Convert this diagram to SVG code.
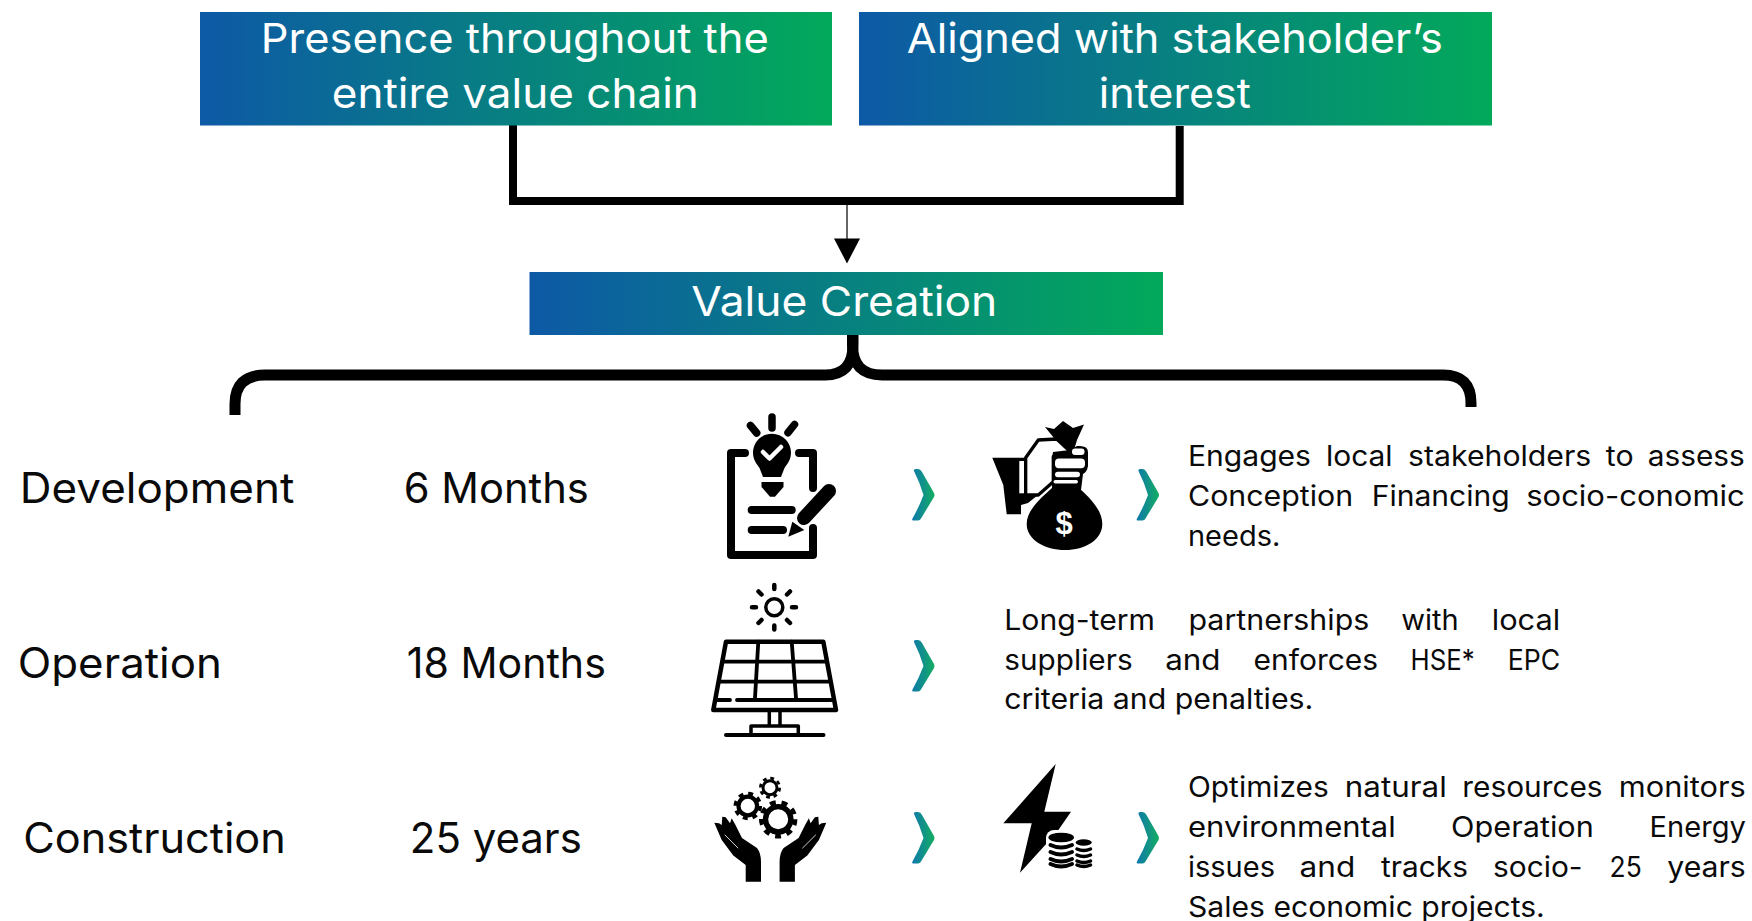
<svg xmlns="http://www.w3.org/2000/svg" width="1752" height="921" viewBox="0 0 1752 921">
<style>
text{font-family:"Inter","Noto Sans",sans-serif;font-weight:400;fill:#0a0a0a;transform:translate(-1.200px,1.200px)}
.hd{font-size:41px;fill:#fff}
.rw{font-size:42px}
.bd{font-size:28px}
.dl{font-family:"Liberation Sans",sans-serif;font-weight:700;font-size:31px;fill:#fff;transform:none}
.ln{fill:none;stroke:#000;stroke-linejoin:miter}
.ic{fill:none;stroke:#000;stroke-linecap:round;stroke-linejoin:round}
.bk{fill:#000}
.wh{fill:#fff}
.ch{fill:url(#chev)}
</style>
<defs>
<linearGradient id="box" x1="0" y1="0" x2="1" y2="0"><stop offset="0" stop-color="#0d59a6"/><stop offset="1" stop-color="#02a95a"/></linearGradient>
<linearGradient id="chev" x1="0" y1="0" x2="1" y2="0"><stop offset="0" stop-color="#0f78ad"/><stop offset="1" stop-color="#14ad62"/></linearGradient>
<path id="chevron" class="ch" d="M914,471 Q913.500,469 916,469 H918 Q920.500,469 922,472 L934,493 Q935,495 934,497 L921,518.500 Q920,520.500 918,520.500 H913 Q911.500,520.500 912.500,518.500 Q919,507 923.500,495 Q920,483 914,471 Z"/>
<path id="hand" d="M745.700,881.700 V865 L733.300,855.500 L721.700,840 L714.300,822.700 L719,823.300 L721.700,825 L722.300,816.700 L725.700,817.300 L730,823.300 L731.700,818.300 L735.500,825 L742,838 L757,848 Q761,853 761,862 V881.700 Z"/>
</defs>

<g id="connectors">
<path class="ln" stroke-width="8" d="M513,123 V201 H1179.700 V126"/>
<path class="ln" stroke-width="1.500" style="stroke:#333" d="M847,205 V240"/>
<polygon class="bk" points="834,238.500 860,238.500 847,263.500"/>
<path class="ln" stroke-width="11" d="M235,415 V404 Q235,375 265,375 H825 Q853,375 853,345 V335"/>
<path class="ln" stroke-width="11" d="M852.500,335 V345 Q852.500,375 882,375 H1443 Q1471,375 1471,403 V407"/>
</g>

<g id="node-presence">
<rect x="200" y="12" width="632" height="113.500" fill="url(#box)"/>
<text class="hd"><tspan x="262" y="52" textLength="508" lengthAdjust="spacingAndGlyphs">Presence throughout the</tspan></text>
<text class="hd"><tspan x="333" y="107" textLength="367" lengthAdjust="spacingAndGlyphs">entire value chain</tspan></text>
</g>
<g id="node-aligned">
<rect x="859" y="12" width="633" height="113.500" fill="url(#box)"/>
<text class="hd"><tspan x="908" y="52" textLength="536" lengthAdjust="spacingAndGlyphs">Aligned with stakeholder’s</tspan></text>
<text class="hd"><tspan x="1100" y="107" textLength="152" lengthAdjust="spacingAndGlyphs">interest</tspan></text>
</g>
<g id="node-value">
<rect x="529.500" y="272" width="633.500" height="63" fill="url(#box)"/>
<text class="hd"><tspan x="692.500" y="315" textLength="306" lengthAdjust="spacingAndGlyphs">Value Creation</tspan></text>
</g>

<g id="row-labels">
<text class="rw"><tspan x="21" y="502" textLength="274.500" lengthAdjust="spacingAndGlyphs">Development</tspan></text>
<text class="rw"><tspan x="405" y="502" textLength="185" lengthAdjust="spacingAndGlyphs">6 Months</tspan></text>
<text class="rw"><tspan x="19" y="677" textLength="204" lengthAdjust="spacingAndGlyphs">Operation</tspan></text>
<text class="rw"><tspan x="408" y="677" textLength="199" lengthAdjust="spacingAndGlyphs">18 Months</tspan></text>
<text class="rw"><tspan x="24.500" y="852" textLength="262.500" lengthAdjust="spacingAndGlyphs">Construction</tspan></text>
<text class="rw"><tspan x="411" y="852" textLength="172" lengthAdjust="spacingAndGlyphs">25 years</tspan></text>
</g>

<g id="icon-clipboard">
<path class="ic" stroke-width="8" d="M745,453 H731 V555 H813 V528 M799,453 H813 V488"/>
<path class="bk" d="M772,433.700 C782.500,433.700 791,442 791,452.700 C791,460 787,464 784.500,468 L781,477 H763 L759.500,468 C757,464 753,460 753,452.700 C753,442 761.500,433.700 772,433.700 Z"/>
<path class="ic" stroke-width="4.500" style="stroke:#fff" d="M763,452 L769.500,458.500 L781,447"/>
<path class="bk" d="M761.500,482 H783.500 V487 L775,496.700 H770 L761.500,487 Z"/>
<path class="ic" stroke-width="7.500" d="M772,417 V428 M750.500,425.500 L756.700,433 M794.500,424.500 L788,432.700"/>
<path class="ic" stroke-width="8" d="M751.700,510 H791.700 M751.700,530 H783"/>
<path class="ic" stroke-width="14" d="M829,491 L804,518"/>
<polygon class="bk" points="792.300,521.700 788.300,536.700 804.300,530"/>
</g>

<g id="icon-money">
<polygon class="bk" points="1045,427 1054,429 1063,421 1073,428 1084,424.500 1077,440 1074,450 1059,450 1054,438"/>
<polygon class="bk" points="992.300,457.700 1025.700,457.700 1025.700,495 1038,495 1028,503 1021,505 1021,514.300 1006.700,514.300 1003.300,485"/>
<rect x="1019.300" y="461" width="4.700" height="32.300" class="wh"/>
<path class="wh" stroke="#000" stroke-width="3.300" stroke-linejoin="round" d="M1025.700,457.700 L1038.300,440 L1056.700,439 L1071,452.300 L1053.300,456.700 V481.700 L1038.300,495 H1025.700 Z"/>
<path class="bk" d="M1053,487 H1078 C1090,498 1102.300,510 1102.300,524 C1102.300,540 1085,550 1065,550 C1045,550 1026.700,540 1026.700,524 C1026.700,510 1041,498 1053,487 Z"/>
<path class="bk" d="M1053,452 L1070,450 L1077,446 Q1088,445 1088,452 V466 Q1087,472 1083,474 L1081,490 H1052 V458 Z"/>
<rect x="1072" y="448.500" width="12.500" height="6.500" rx="3" class="wh"/>
<rect x="1055" y="458.500" width="30" height="9.800" rx="4" class="wh"/>
<rect x="1055" y="471.700" width="25" height="5.600" rx="2.800" class="wh"/>
<rect x="1053.500" y="480" width="24.500" height="3.600" rx="1.800" class="wh"/>
<text class="dl" x="1064" y="534" text-anchor="middle">$</text>
</g>

<g id="icon-solar">
<circle class="ic" cx="774.300" cy="607.300" r="8.500" stroke-width="3.500"/>
<path class="ic" stroke-width="4.500" d="M774.300,585 V589 M774.300,625.500 V629.500 M752,607.300 H756 M792,607.300 H796 M758.500,591.500 L761.500,594.500 M790,591.500 L787,594.500 M758.500,623 L761.500,620 M790,623 L787,620"/>
<path class="ic" stroke-width="4.500" d="M726,641.700 H823.300 L836,710 H713.300 Z"/>
<path class="ic" stroke-width="3.800" d="M722.500,661.700 H827 M719,681.700 H830.500 M758.300,641.700 L755,698 M791.700,641.700 L796,698 M716,700 H730 M737,700 H833"/>
<path class="ic" stroke-width="3.500" d="M769.300,711 V725 M780,711 V725 M751,734 V726 H798.300 V734"/>
<path class="ic" stroke-width="4" d="M726,735 H823.500"/>
</g>

<g id="icon-hands">
<use href="#hand" class="bk"/>
<use href="#hand" class="bk" transform="translate(1540.600,0) scale(-1,1)"/>
<path class="ic" stroke-width="0.800" style="stroke:#fff" d="M725,835 L738,848 M815.600,835 L802.600,848"/>
<circle class="ic" cx="778.200" cy="819.300" r="12.700" stroke-width="5.400"/>
<circle cx="778.200" cy="819.300" r="17" fill="none" stroke="#000" stroke-width="4.400" stroke-dasharray="5.930"/>
<circle class="ic" cx="747.800" cy="806" r="9.300" stroke-width="4.200"/>
<circle cx="747.800" cy="806" r="12.500" fill="none" stroke="#000" stroke-width="3.500" stroke-dasharray="4.910"/>
<circle class="ic" cx="770" cy="787.700" r="7" stroke-width="3"/>
<circle cx="770" cy="787.700" r="9.600" fill="none" stroke="#000" stroke-width="2.800" stroke-dasharray="3.770"/>
</g>

<g id="icon-bolt">
<polygon class="bk" points="1055.700,764 1044.300,811.700 1071,811.700 1057,832 1020,872.700 1031.700,823.300 1003.300,823.300"/>
<rect x="1046" y="830" width="47" height="40" rx="8" class="wh"/>
<ellipse class="bk" cx="1061.200" cy="837.500" rx="12.800" ry="4.800"/>
<path class="ic" stroke-width="4" d="M1050.500,845 Q1061,850 1072,845 M1050.500,852 Q1061,857 1072,852 M1050.500,859 Q1061,864 1072,859 M1050.500,864 Q1061,869 1072,864"/>
<ellipse class="bk" cx="1083.700" cy="842.500" rx="8" ry="3.200"/>
<path class="ic" stroke-width="3.500" d="M1077,849 Q1083.700,852 1090.500,849 M1077,855 Q1083.700,858 1090.500,855 M1077,861 Q1083.700,864 1090.500,861 M1077,865 Q1083.700,868 1090.500,865"/>
</g>

<g id="chevrons">
<use href="#chevron"/>
<use href="#chevron" x="224.500"/>
<use href="#chevron" y="171"/>
<use href="#chevron" y="343"/>
<use href="#chevron" x="224.500" y="343"/>
</g>

<g id="text-development">
<text class="bd"><tspan x="1189.200" y="465" textLength="123" lengthAdjust="spacingAndGlyphs">Engages</tspan> <tspan x="1327.200" y="465" textLength="66.600" lengthAdjust="spacingAndGlyphs">local</tspan> <tspan x="1409.300" y="465" textLength="183.200" lengthAdjust="spacingAndGlyphs">stakeholders</tspan> <tspan x="1607" y="465" textLength="27.800" lengthAdjust="spacingAndGlyphs">to</tspan> <tspan x="1648.900" y="465" textLength="97.100" lengthAdjust="spacingAndGlyphs">assess</tspan></text>
<text class="bd"><tspan x="1189.200" y="505" textLength="165.200" lengthAdjust="spacingAndGlyphs">Conception</tspan> <tspan x="1372.900" y="505" textLength="138" lengthAdjust="spacingAndGlyphs">Financing</tspan> <tspan x="1527.400" y="505" textLength="218.600" lengthAdjust="spacingAndGlyphs">socio-conomic</tspan></text>
<text class="bd"><tspan x="1189.200" y="545" textLength="92.300" lengthAdjust="spacingAndGlyphs">needs.</tspan></text>
</g>
<g id="text-operation">
<text class="bd"><tspan x="1005.500" y="629" textLength="150.700" lengthAdjust="spacingAndGlyphs">Long-term</tspan> <tspan x="1189.700" y="629" textLength="180.800" lengthAdjust="spacingAndGlyphs">partnerships</tspan> <tspan x="1402.500" y="629" textLength="57.400" lengthAdjust="spacingAndGlyphs">with</tspan> <tspan x="1492.900" y="629" textLength="68.500" lengthAdjust="spacingAndGlyphs">local</tspan></text>
<text class="bd"><tspan x="1005.500" y="669" textLength="128.300" lengthAdjust="spacingAndGlyphs">suppliers</tspan> <tspan x="1166.400" y="669" textLength="55.400" lengthAdjust="spacingAndGlyphs">and</tspan> <tspan x="1254.800" y="669" textLength="124.400" lengthAdjust="spacingAndGlyphs">enforces</tspan> <tspan x="1411.800" y="669" textLength="64.100" lengthAdjust="spacingAndGlyphs">HSE*</tspan> <tspan x="1509" y="669" textLength="52.400" lengthAdjust="spacingAndGlyphs">EPC</tspan></text>
<text class="bd"><tspan x="1005.500" y="708" textLength="309" lengthAdjust="spacingAndGlyphs">criteria and penalties.</tspan></text>
</g>
<g id="text-construction">
<text class="bd"><tspan x="1189.200" y="796" textLength="140.800" lengthAdjust="spacingAndGlyphs">Optimizes</tspan> <tspan x="1346" y="796" textLength="102" lengthAdjust="spacingAndGlyphs">natural</tspan> <tspan x="1463.500" y="796" textLength="140.300" lengthAdjust="spacingAndGlyphs">resources</tspan> <tspan x="1620" y="796" textLength="127" lengthAdjust="spacingAndGlyphs">monitors</tspan></text>
<text class="bd"><tspan x="1189.200" y="836" textLength="207.800" lengthAdjust="spacingAndGlyphs">environmental</tspan> <tspan x="1452.300" y="836" textLength="142.700" lengthAdjust="spacingAndGlyphs">Operation</tspan> <tspan x="1650.800" y="836" textLength="96.200" lengthAdjust="spacingAndGlyphs">Energy</tspan></text>
<text class="bd"><tspan x="1189.200" y="876" textLength="87" lengthAdjust="spacingAndGlyphs">issues</tspan> <tspan x="1300.800" y="876" textLength="55.700" lengthAdjust="spacingAndGlyphs">and</tspan> <tspan x="1382.300" y="876" textLength="86.900" lengthAdjust="spacingAndGlyphs">tracks</tspan> <tspan x="1494.200" y="876" textLength="89.600" lengthAdjust="spacingAndGlyphs">socio-</tspan> <tspan x="1610.800" y="876" textLength="32.200" lengthAdjust="spacingAndGlyphs">25</tspan> <tspan x="1668.500" y="876" textLength="78.500" lengthAdjust="spacingAndGlyphs">years</tspan></text>
<text class="bd"><tspan x="1189.200" y="916" textLength="356.800" lengthAdjust="spacingAndGlyphs">Sales economic projects.</tspan></text>
</g>
</svg>
